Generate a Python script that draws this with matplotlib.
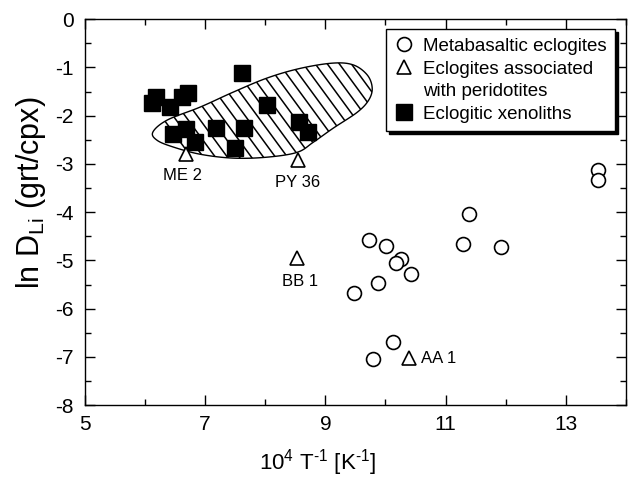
import numpy as np
import matplotlib
matplotlib.use('Agg')
import matplotlib.pyplot as plt
from matplotlib.lines import Line2D
from matplotlib.patches import Polygon
from matplotlib.ticker import FixedLocator, MultipleLocator

plt.rcParams['font.family'] = ['Liberation Sans', 'DejaVu Sans']
plt.rcParams['mathtext.fontset'] = 'custom'
plt.rcParams['mathtext.rm'] = 'Liberation Sans'
plt.rcParams['mathtext.it'] = 'Liberation Sans'
plt.rcParams['axes.unicode_minus'] = False

# metabasaltic eclogites (open circles)
meta_x = [13.53, 13.53, 11.39, 11.29, 11.92, 9.73, 10.01, 10.26, 10.18, 10.42, 9.88, 9.48, 10.13, 9.79]
meta_y = [-3.13, -3.34, -4.03, -4.65, -4.73, -4.57, -4.70, -4.97, -5.06, -5.28, -5.47, -5.67, -6.69, -7.04]

# eclogites associated with peridotites (open triangles)
perid_x = [6.68, 8.54, 8.53, 10.40]
perid_y = [-2.80, -2.92, -4.94, -7.03]
perid_names = ['ME 2', 'PY 36', 'BB 1', 'AA 1']

# eclogitic xenoliths (filled squares)
xeno_x = [6.12, 6.19, 6.42, 6.62, 6.71, 7.62, 6.47, 6.68, 6.83, 7.18, 7.65, 7.50, 8.03, 8.56, 8.71]
xeno_y = [-1.73, -1.62, -1.82, -1.61, -1.52, -1.11, -2.37, -2.27, -2.54, -2.25, -2.25, -2.68, -1.78, -2.14, -2.34]

# outline of the hatched xenolith field
field_x = [6.13, 6.37, 6.92, 7.47, 8.03, 8.58, 9.13, 9.47, 9.70, 9.78, 9.72, 9.53,
           9.13, 8.80, 8.53, 8.03, 7.47, 6.92, 6.47, 6.20]
field_y = [-2.34, -2.09, -1.82, -1.51, -1.22, -1.02, -0.91, -0.95, -1.16, -1.43, -1.68, -1.93,
           -2.26, -2.55, -2.76, -2.86, -2.88, -2.80, -2.65, -2.51]

x_major = [5, 7, 9, 11, 13]


def closed_spline(xs, ys, n=25):
    P = np.column_stack([xs, ys])
    N = len(P)
    t = np.linspace(0, 1, n, endpoint=False)[:, None]
    out = []
    for i in range(N):
        p0, p1, p2, p3 = P[(i - 1) % N], P[i], P[(i + 1) % N], P[(i + 2) % N]
        out.append(0.5 * (2 * p1 + (-p0 + p2) * t + (2 * p0 - 5 * p1 + 4 * p2 - p3) * t ** 2
                          + (-p0 + 3 * p1 - 3 * p2 + p3) * t ** 3))
    return np.vstack(out)


fig = plt.figure(figsize=(6.31, 4.80), dpi=100)
ax = fig.add_axes([0.1347, 0.156, 0.857, 0.804])

field = Polygon(closed_spline(field_x, field_y), closed=True, facecolor='white',
                edgecolor='black', linewidth=1.0, zorder=1)
ax.add_patch(field)
# diagonal hatching clipped to the field
slope = 1.7
for x0 in np.arange(5.5, 10.5, 0.2):
    ln, = ax.plot([x0, x0 + 2.4 / slope], [-0.7, -3.1], color='black', lw=1.1, zorder=1.5)
    ln.set_clip_path(field)

ax.plot(meta_x, meta_y, 'o', ms=10, mfc='white', mec='black', mew=1.2, ls='none', zorder=3)
ax.plot(perid_x, perid_y, '^', ms=10, mfc='white', mec='black', mew=1.2, ls='none', zorder=3)
ax.plot(xeno_x, xeno_y, 's', ms=11, mfc='black', mec='black', ls='none', zorder=4)

label_pos = [(6.63, -3.25, 'center'), (8.53, -3.38, 'center'), (8.58, -5.43, 'center'), (10.6, -7.03, 'left')]
for name, (tx, ty, ha) in zip(perid_names, label_pos):
    ax.text(tx, ty, name, fontsize=12, ha=ha, va='center')

ax.set_xlim(5, 14)
ax.set_ylim(-8, 0)
ax.xaxis.set_major_locator(FixedLocator(x_major))
ax.xaxis.set_minor_locator(MultipleLocator(1))
ax.yaxis.set_major_locator(MultipleLocator(1))
ax.yaxis.set_minor_locator(MultipleLocator(0.5))
ax.tick_params(which='both', direction='in', top=True, right=True, width=1)
ax.tick_params(which='major', length=7, labelsize=15)
ax.tick_params(which='minor', length=4)
ax.tick_params(axis='x', pad=7)
ax.tick_params(axis='y', pad=8)
for s in ax.spines.values():
    s.set_linewidth(1.0)

ax.set_xlabel(r'10$^{4}$ T$^{\text{-1}}$ [K$^{\text{-1}}$]', fontsize=16)
ax.xaxis.set_label_coords(0.43, -0.11)
ax.set_ylabel(r'ln D$_{\mathrm{Li}}$ (grt/cpx)', fontsize=22)
ax.yaxis.set_label_coords(-0.068, 0.55)

handles = [
    Line2D([], [], marker='o', ms=10, mfc='white', mec='black', mew=1.2, ls='none'),
    Line2D([], [], marker='^', ms=10, mfc='white', mec='black', mew=1.2, ls='none'),
    Line2D([], [], ls='none'),
    Line2D([], [], marker='s', ms=11, mfc='black', mec='black', ls='none'),
]
labels = ['Metabasaltic eclogites', 'Eclogites associated', 'with peridotites', 'Eclogitic xenoliths']
leg = ax.legend(handles, labels, loc='upper right', bbox_to_anchor=(0.98, 0.974),
                borderaxespad=0, fontsize=13.5, handlelength=1.0, handletextpad=0.5,
                labelspacing=0.3, borderpad=0.45, fancybox=False, framealpha=1,
                edgecolor='black', shadow={'color': 'black', 'alpha': 1})
leg.get_frame().set_linewidth(1.0)

fig.savefig('out.png', dpi=100)
